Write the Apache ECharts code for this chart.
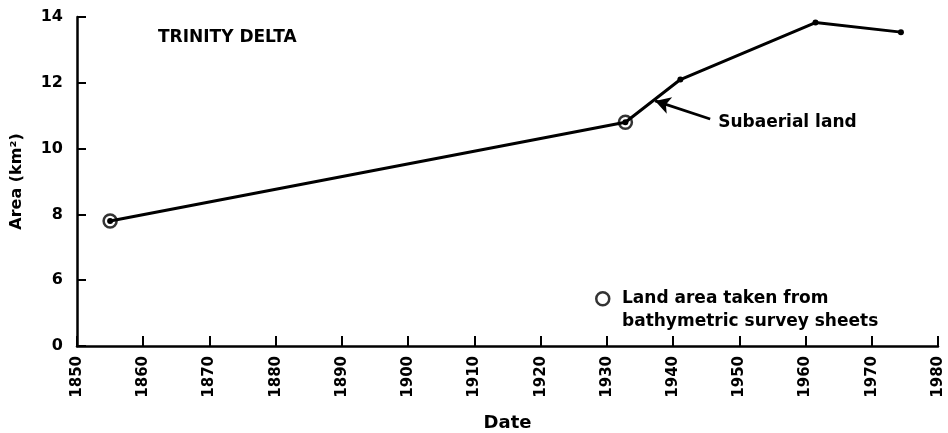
<!DOCTYPE html>
<html>
<head>
<meta charset="utf-8">
<script src="https://cdn.jsdelivr.net/npm/echarts@6/dist/echarts.min.js"></script>
<style>html,body{margin:0;padding:0;background:#fff}#c{width:948px;height:433px}</style>
</head>
<body>
<div id="c"></div>
<script>
// Data
var years = [1855, 1932.8, 1941.1, 1961.5, 1974.4];
var areas = [7.8, 10.8, 12.1, 13.83, 13.54];
var surveyYears = [1855, 1932.8];
var surveyAreas = [7.8, 10.8];
var yTicks = [4, 6, 8, 10, 12, 14];          // axis break: lowest tick is shown as 0
var yTickLabels = ['0', '6', '8', '10', '12', '14'];
var arrowFrom = [1945.6, 10.9];
var arrowTo = [1937.3, 11.45];
var title = 'TRINITY DELTA';
var legendName = 'Land area taken from bathymetric survey sheets';
var legendLines = ['Land area taken from', 'bathymetric survey sheets'];
var annotation = 'Subaerial land';

var font = 'DejaVu Sans';
var chart = echarts.init(document.getElementById('c'));
var lineData = years.map(function (y, i) { return [y, areas[i]]; });
var surveyData = surveyYears.map(function (y, i) { return [y, surveyAreas[i]]; });

chart.setOption({
  animation: false,
  backgroundColor: '#fff',
  title: [
    {
      text: title, left: 153, top: 24,
      textStyle: { fontFamily: font, fontWeight: 'bold', fontSize: 17, color: '#000' }
    },
    {
      text: legendLines.join('\n'), left: 622, top: 287, padding: 0,
      textStyle: { fontFamily: font, fontWeight: 'bold', fontSize: 17, color: '#000', lineHeight: 23 }
    }
  ],
  grid: { left: 77, right: 10, top: 17, bottom: 87, containLabel: false, outerBoundsMode: 'none' },
  legend: {
    data: [legendName], left: 595, top: 291, padding: 0,
    icon: 'circle', itemWidth: 13, itemHeight: 13,
    formatter: function () { return ''; },
    itemStyle: { color: 'transparent', borderColor: '#000', borderWidth: 2.5 },
    textStyle: { fontSize: 1 }
  },
  xAxis: {
    type: 'value', min: 1850, max: 1980, interval: 10,
    name: 'Date', nameLocation: 'middle', nameGap: 68,
    nameTextStyle: { fontFamily: font, fontWeight: 'bold', fontSize: 18, color: '#000' },
    axisLine: { lineStyle: { color: '#000', width: 2.5 } },
    axisTick: { inside: true, length: 10, lineStyle: { color: '#000', width: 2 } },
    axisLabel: { rotate: 90, margin: 10, fontFamily: font, fontWeight: 'bold', fontSize: 15, color: '#000',
      formatter: function (v) { return String(v); } },
    splitLine: { show: false }
  },
  yAxis: {
    type: 'value', min: 4, max: 14, interval: 2,
    name: 'Area (km²)', nameLocation: 'middle', nameGap: 52, nameRotate: 90,
    nameTextStyle: { fontFamily: font, fontWeight: 'bold', fontSize: 16, color: '#000' },
    axisLine: { show: true, lineStyle: { color: '#000', width: 2.5 } },
    axisTick: { show: true, inside: true, length: 9, lineStyle: { color: '#000', width: 2 } },
    axisLabel: { margin: 14, fontFamily: font, fontWeight: 'bold', fontSize: 16, color: '#000',
      formatter: function (v) { var i = yTicks.indexOf(v); return i >= 0 ? yTickLabels[i] : ''; } },
    splitLine: { show: false }
  },
  series: [
    {
      name: annotation, type: 'line', data: lineData,
      symbol: 'circle', symbolSize: 6,
      itemStyle: { color: '#000' },
      lineStyle: { color: '#000', width: 3 },
      z: 3,
      markLine: {
        silent: true, symbol: ['none', 'arrow'], symbolSize: [13, 15],
        lineStyle: { color: '#000', width: 2.8, type: 'solid' },
        label: { show: false },
        data: [[{ coord: arrowFrom }, { coord: arrowTo }]]
      },
      markPoint: {
        silent: true, symbol: 'circle', symbolSize: 0,
        label: { show: true, position: 'right', distance: 8, offset: [0, 4], formatter: annotation,
          fontFamily: font, fontWeight: 'bold', fontSize: 17, color: '#000' },
        data: [{ coord: arrowFrom }]
      }
    },
    {
      name: legendName, type: 'scatter', data: surveyData,
      symbol: 'circle', symbolSize: 13,
      itemStyle: { color: 'transparent', borderColor: '#000', borderWidth: 2.5 },
      z: 4
    }
  ]
});
</script>
</body>
</html>
